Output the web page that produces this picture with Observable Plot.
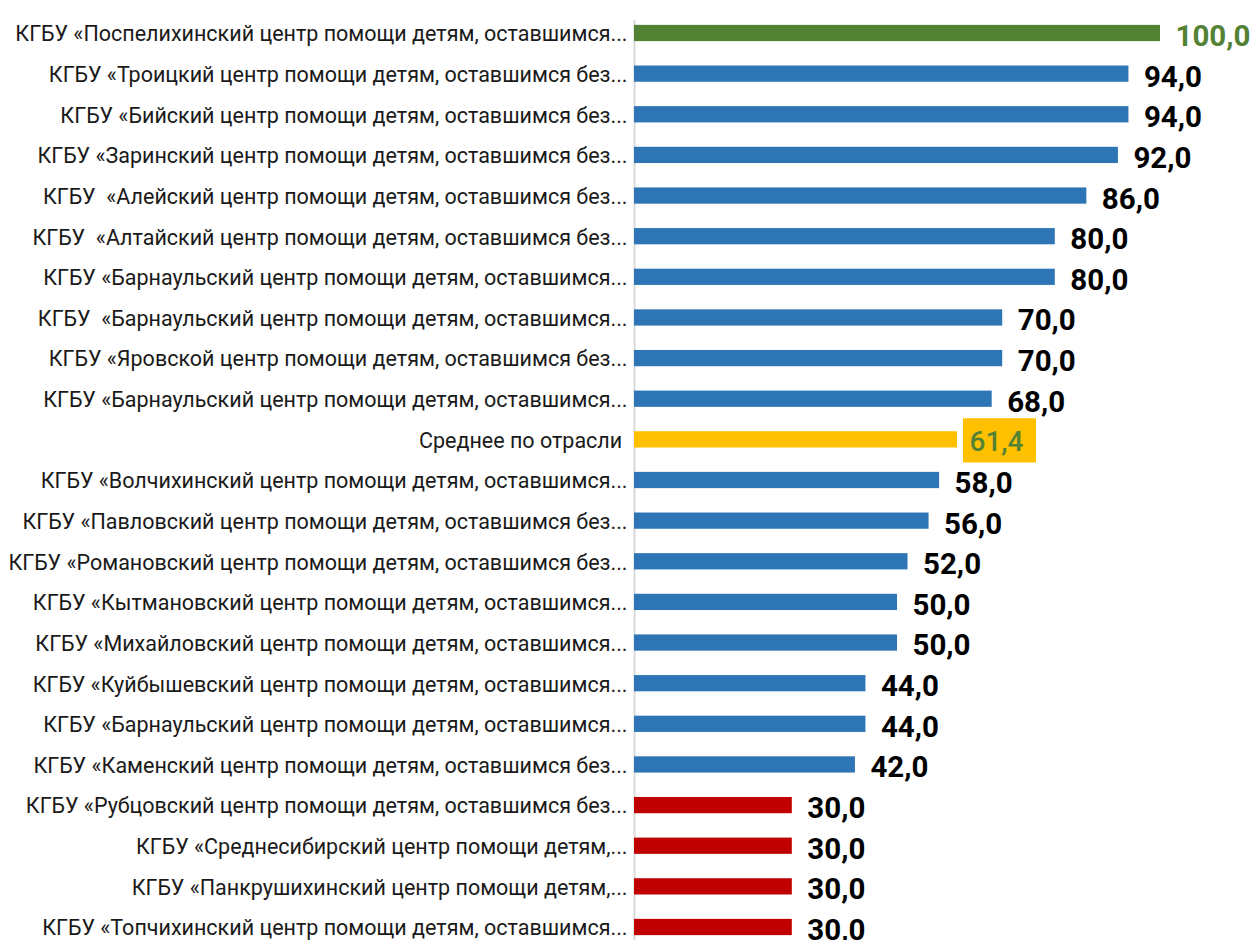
<!DOCTYPE html>
<html><head><meta charset="utf-8">
<script src="https://cdn.jsdelivr.net/npm/d3@7"></script>
<script src="https://cdn.jsdelivr.net/npm/@observablehq/plot@0.6"></script>
<style>
body{margin:0;background:#fff;}
svg text{white-space:pre;}
</style></head><body><div id="chart"></div>
<script>
const labels = [
  "КГБУ «Поспелихинский центр помощи детям, оставшимся...",
  "КГБУ «Троицкий центр помощи детям, оставшимся без...",
  "КГБУ «Бийский центр помощи детям, оставшимся без...",
  "КГБУ «Заринский центр помощи детям, оставшимся без...",
  "КГБУ  «Алейский центр помощи детям, оставшимся без...",
  "КГБУ  «Алтайский центр помощи детям, оставшимся без...",
  "КГБУ «Барнаульский центр помощи детям, оставшимся...",
  "КГБУ  «Барнаульский центр помощи детям, оставшимся...",
  "КГБУ «Яровской центр помощи детям, оставшимся без...",
  "КГБУ «Барнаульский центр помощи детям, оставшимся...",
  "Среднее по отрасли ",
  "КГБУ «Волчихинский центр помощи детям, оставшимся...",
  "КГБУ «Павловский центр помощи детям, оставшимся без...",
  "КГБУ «Романовский центр помощи детям, оставшимся без...",
  "КГБУ «Кытмановский центр помощи детям, оставшимся...",
  "КГБУ «Михайловский центр помощи детям, оставшимся...",
  "КГБУ «Куйбышевский центр помощи детям, оставшимся...",
  "КГБУ «Барнаульский центр помощи детям, оставшимся...",
  "КГБУ «Каменский центр помощи детям, оставшимся без...",
  "КГБУ «Рубцовский центр помощи детям, оставшимся без...",
  "КГБУ «Среднесибирский центр помощи детям,...",
  "КГБУ «Панкрушихинский центр помощи детям,...",
  "КГБУ «Топчихинский центр помощи детям, оставшимся..."
];
const values = [100, 94, 94, 92, 86, 80, 80, 70, 70, 68, 61.4, 58, 56, 52, 50, 50, 44, 44, 42, 30, 30, 30, 30];
const averageLabel = "Среднее по отрасли ";

const data = labels.map((name, i) => ({key: i, name, value: values[i]}));
const keys = data.map(d => d.key);
const avgData = data.filter(d => d.name === averageLabel);
const restData = data.filter(d => d.name !== averageLabel);
const topValue = d3.max(values);
const fmt = v => d3.format(".1f")(v).replace(".", ",");
const colorOf = d => d.name === averageLabel ? "#FFC000"
  : d.value === topValue ? "#548235"
  : d.value <= 30 ? "#C00000" : "#2E75B6";

const chart = Plot.plot({
  width: 1253, height: 940,
  marginLeft: 634, marginRight: 93, marginTop: 20, marginBottom: 0,
  x: {domain: [0, 100], axis: null},
  y: {domain: keys, paddingInner: 0.6, paddingOuter: 0.12, round: false, axis: null},
  color: {type: "identity"},
  style: {fontFamily: "Roboto, 'Open Sans', sans-serif", background: "#fff"},
  marks: [
    Plot.ruleX([0], {stroke: "#d9d9d9", strokeWidth: 2}),
    Plot.barX(data, {x: "value", y: "key", fill: colorOf}),
    Plot.barX(avgData, {x1: "value", x2: "value", y: "key", insetLeft: 6, insetRight: -79, insetTop: -13, insetBottom: -15, fill: "#FFC000"}),
    Plot.text(data, {x: 0, y: "key", text: "name", textAnchor: "end", dx: -7, dy: 1, fontSize: 21.5, fill: "#1a1a1a"}),
    Plot.text(restData, {x: "value", y: "key", text: d => fmt(d.value), textAnchor: "start", dx: 15, dy: 3, fontSize: 29.5, fontWeight: "bold", fill: d => d.value === topValue ? "#548235" : "#000"}),
    Plot.text(avgData, {x: "value", y: "key", text: d => fmt(d.value), textAnchor: "start", dx: 12, dy: 2, fontSize: 28, fontWeight: 500, fill: "#548235"})
  ]
});
document.getElementById("chart").appendChild(chart);
</script></body></html>
